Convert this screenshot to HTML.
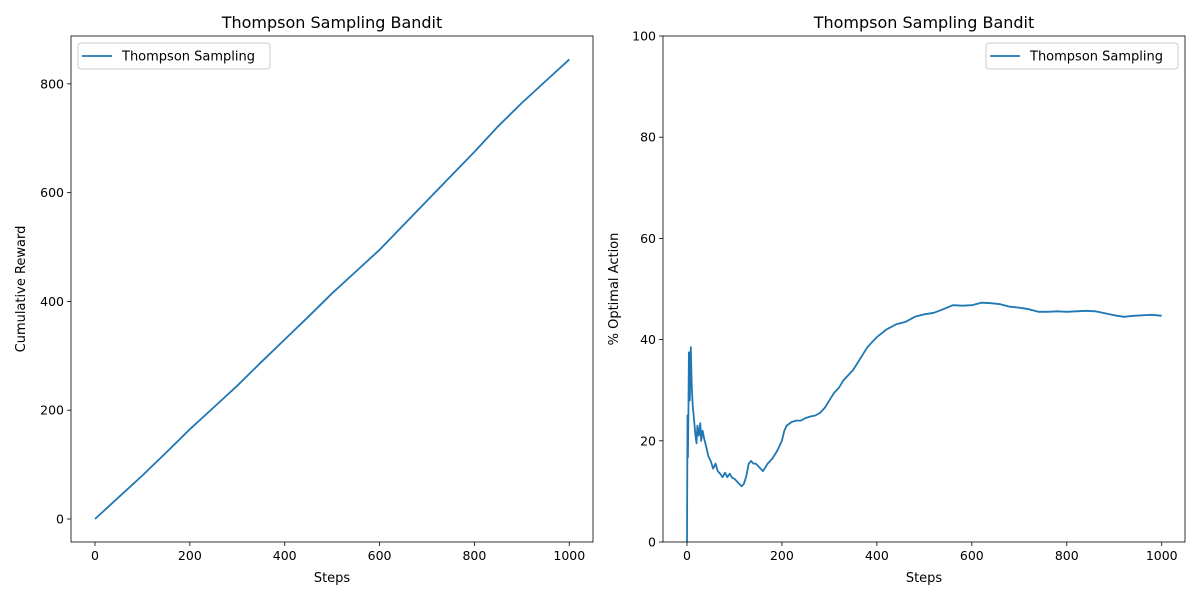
<!DOCTYPE html>
<html><head><meta charset="utf-8"><style>
body{margin:0;background:#fff;}
svg text{font-family:"DejaVu Sans","Liberation Sans",sans-serif;fill:#000;}
</style></head><body>
<svg id="fig" width="1200" height="600" xmlns="http://www.w3.org/2000/svg"></svg>
<script>
const leftSteps=[0,50,100,150,200,250,300,350,400,450,500,550,600,650,700,750,800,850,900,950,1000];
const leftValues=[0,40,80,122,165,205,245,288,330,372,415,455,495,540,585,630,675,722,765,805,845];
const rightSteps=[0,1,2,3,4,5,6,7,8,9,10,12,15,18,20,22,25,28,30,33,36,40,45,50,55,60,65,70,75,80,85,90,95,100,105,110,115,120,125,130,135,140,145,150,160,170,180,190,200,205,210,220,230,240,250,260,270,280,290,300,310,320,330,340,350,360,370,380,390,400,420,440,460,480,500,520,540,560,580,600,620,640,660,680,700,720,740,760,780,800,820,840,860,880,900,920,940,960,980,1000];
const rightValues=[0,25,16.7,25,37.5,37,28,33,38.5,35,31,27,24,21,19.5,23,21,23.5,20,22,20.5,19,17,16,14.5,15.5,14,13.5,12.8,13.7,12.8,13.5,12.7,12.5,12,11.5,11,11.5,13,15.5,16,15.5,15.5,15,14,15.5,16.5,18,20,22,23,23.7,24,24,24.5,24.8,25,25.5,26.5,28,29.5,30.5,32,33,34,35.5,37,38.5,39.5,40.5,42,43,43.5,44.5,45,45.3,46,46.8,46.7,46.8,47.3,47.2,47,46.5,46.3,46,45.5,45.5,45.6,45.5,45.6,45.7,45.6,45.2,44.8,44.5,44.7,44.8,44.9,44.7];
const leftYTicks=[0,200,400,600,800];
const rightYTicks=[0,20,40,60,80,100];
const xTicks=[0,200,400,600,800,1000];
const NS="http://www.w3.org/2000/svg";
const svg=document.getElementById('fig');
function el(tag,attrs,parent){const e=document.createElementNS(NS,tag);for(const k in attrs)e.setAttribute(k,attrs[k]);(parent||svg).appendChild(e);return e;}
function panel(cfg){
  const g=el('g',{});
  
  
  const L=cfg.x0,R=cfg.x1,T=36,B=542;
  const sx=v=>L+(v-cfg.xmin)/(cfg.xmax-cfg.xmin)*(R-L);
  const sy=v=>B-(v-cfg.ymin)/(cfg.ymax-cfg.ymin)*(B-T);
  let d='';
  cfg.xs.forEach((x,i)=>{d+=(i?'L':'M')+sx(x).toFixed(1)+','+sy(cfg.ys[i]).toFixed(1);});
  const line=el('path',{d:d,fill:'none',stroke:'#1f77b4','stroke-width':1.8,'stroke-linejoin':'round'},g);
  
  
  const frame=el('rect',{x:L,y:T,width:R-L,height:B-T,fill:'none',stroke:'#000','stroke-width':0.8},g);
  
  
  xTicks.forEach(t=>{
    el('line',{x1:sx(t),x2:sx(t),y1:B,y2:B+4,stroke:'#000','stroke-width':0.8},g);
    const tx=el('text',{x:sx(t),y:B+18,'font-size':12.5,'text-anchor':'middle'},g);
    tx.textContent=t;
    
    
  });
  cfg.yt.forEach(t=>{
    el('line',{x1:L-4,x2:L,y1:sy(t),y2:sy(t),stroke:'#000','stroke-width':0.8},g);
    const tx=el('text',{x:L-7,y:sy(t)+4.5,'font-size':12.5,'text-anchor':'end'},g);
    tx.textContent=t;
    
    
  });
  const ti=el('text',{x:(L+R)/2,y:28,'font-size':16,'text-anchor':'middle'},g);
  ti.textContent='Thompson Sampling Bandit';
  
  
  const xl=el('text',{x:(L+R)/2,y:582,'font-size':13,'text-anchor':'middle'},g);
  xl.textContent='Steps';
  
  
  const yl=el('text',{x:0,y:0,'font-size':13,'text-anchor':'middle',transform:`translate(${cfg.ylx},${(T+B)/2}) rotate(-90)`},g);
  yl.textContent=cfg.ylabel;
  
  
  const lg=el('g',{},g);
  
  
  el('rect',{x:cfg.lx,y:43,width:192,height:26,rx:3,fill:'#fff',stroke:'#ccc','stroke-width':1},lg);
  el('line',{x1:cfg.lx+4,x2:cfg.lx+34,y1:56,y2:56,stroke:'#1f77b4','stroke-width':1.8},lg);
  const lt=el('text',{x:cfg.lx+44,y:60.5,'font-size':13},lg);
  lt.textContent='Thompson Sampling';
  
  
}
panel({name:'cumulative-reward-chart',x0:71,x1:593,xmin:-50.6,xmax:1050,ymin:-42.3,ymax:888,xs:leftSteps,ys:leftValues,yt:leftYTicks,ylabel:'Cumulative Reward',ylx:25,lx:78});
panel({name:'optimal-action-chart',x0:663,x1:1185,xmin:-50.5,xmax:1049,ymin:0,ymax:100,xs:rightSteps,ys:rightValues,yt:rightYTicks,ylabel:'% Optimal Action',ylx:618,lx:986});
</script>
</body></html>
